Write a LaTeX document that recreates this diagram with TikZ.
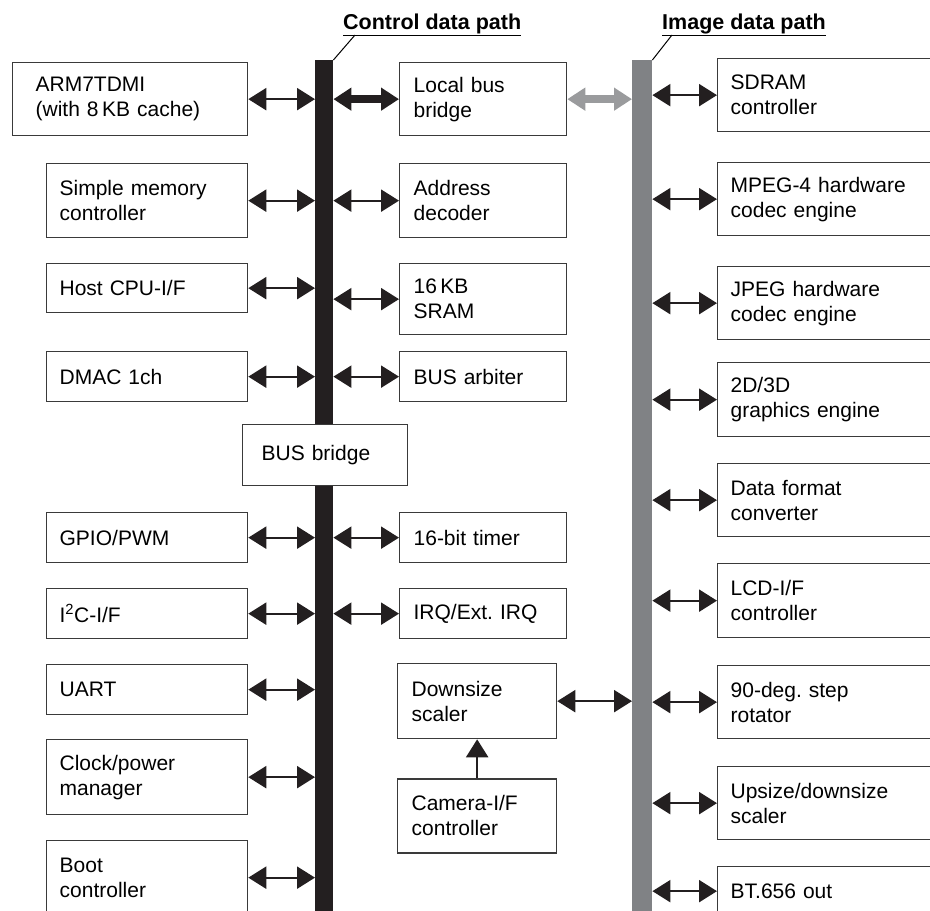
\documentclass[tikz,border=0pt]{standalone}
\usepackage{fontspec}
\setmainfont{Liberation Sans}
\usetikzlibrary{positioning, arrows.meta}

\definecolor{busblack}{HTML}{231F20}
\definecolor{busgray}{HTML}{808285}
\definecolor{linkgray}{HTML}{9A9B9D}
\definecolor{boxline}{HTML}{3A3A3A}
\frenchspacing

\begin{document}
\begin{tikzpicture}[x=1pt, y=-1pt,
                    box/.style={rectangle, draw=boxline, line width=1.3pt, fill=white, inner xsep=13pt, inner ysep=0pt,
                                align=left, anchor=north west, font=\fontsize{21}{25}\selectfont},
                    lbox/.style={box, text width=175pt},
                    mbox/.style={box, inner xsep=14pt, text width=139pt},
                    sbox/.style={box, inner xsep=14pt, text width=131pt},
                    rbox/.style={box, text width=214pt},
                    cbar/.style={rectangle, fill=busblack, inner sep=0pt, minimum width=18pt, minimum height=870pt, anchor=north west},
                    ibar/.style={rectangle, fill=busgray, inner sep=0pt, minimum width=20pt, minimum height=870pt, anchor=north west},
                    pathlbl/.style={inner sep=0pt, anchor=base west, font=\fontsize{21.5}{25}\selectfont\bfseries},
                    dbl/.style={{Triangle[length=18pt,width=22pt]}-{Triangle[length=18pt,width=22pt]}, line width=2.3pt, draw=busblack},
                    fatdbl/.style={dbl, line width=8pt},
                    uparrow/.style={-{Triangle[length=18pt,width=22pt]}, line width=2.3pt, draw=busblack}]
    \useasboundingbox (0,0) rectangle (930,911);
    \clip (0,0) rectangle (930,911);
    % buses
    \node[cbar]     (cbus)  at (315,60)   {};
    \node[ibar]     (ibus)  at (632,60)   {};
    \node[pathlbl]  (clbl)  at (343,29)   {\underline{Control data path}};
    \node[pathlbl]  (ilbl)  at (662,29)   {\underline{Image data path}};
    \coordinate     (ctail) at (355,35);
    \coordinate     (itail) at (672,35);
    \draw[line width=1pt] (ctail) -- (cbus.north east);
    \draw[line width=1pt] (itail) -- (ibus.north east);
    % left column
    \node[lbox, inner xsep=23pt, text width=189pt, minimum height=73pt] (arm)  at (12,62)  {ARM7TDMI\\(with 8\,KB cache)};
    \node[lbox, minimum height=74pt] (smc)  at (46,163)  {Simple memory\\controller};
    \node[lbox, minimum height=49pt] (host) at (46,263)  {Host CPU-I/F};
    \node[lbox, minimum height=50pt] (dmac) at (46,351)  {DMAC 1ch};
    \node[box, inner xsep=19pt, text width=127pt, minimum height=61pt] (bridge) at (242,424) {BUS bridge};
    \node[lbox, minimum height=50pt] (gpio) at (46,512)  {GPIO/PWM};
    \node[lbox, minimum height=50pt] (iic)  at (46,588)  {I\textsuperscript{2}C-I/F};
    \node[lbox, minimum height=50pt] (uart) at (46,664)  {UART};
    \node[lbox, minimum height=75pt] (clk)  at (46,739)  {Clock/power\\manager};
    \node[lbox, minimum height=74pt] (boot) at (46,840)  {Boot\\controller};
    % middle column
    \node[mbox, minimum height=73pt] (lbb)  at (399,62)  {Local bus\\bridge};
    \node[mbox, minimum height=74pt] (adec) at (399,163) {Address\\decoder};
    \node[mbox, minimum height=71pt] (sram) at (399,263) {16\,KB\\SRAM};
    \node[mbox, minimum height=50pt] (arb)  at (399,351) {BUS arbiter};
    \node[mbox, minimum height=50pt] (tmr)  at (399,512) {16-bit timer};
    \node[mbox, minimum height=50pt] (irq)  at (399,588) {IRQ/Ext. IRQ};
    \node[sbox, minimum height=75pt] (down) at (397,663) {Downsize\\scaler};
    \node[sbox, minimum height=74pt] (cam)  [below=39pt of down] {Camera-I/F\\controller};
    % right column
    \node[rbox, minimum height=73pt] (sdram) at (717,58)  {SDRAM\\controller};
    \node[rbox, minimum height=73pt] (mpeg)  at (717,162) {MPEG-4 hardware\\codec engine};
    \node[rbox, minimum height=73pt] (jpeg)  at (717,266) {JPEG hardware\\codec engine};
    \node[rbox, minimum height=74pt] (gfx)   at (717,362) {2D/3D\\graphics engine};
    \node[rbox, minimum height=73pt] (dfc)   at (717,463) {Data format\\converter};
    \node[rbox, minimum height=74pt] (lcd)   at (717,563) {LCD-I/F\\controller};
    \node[rbox, minimum height=73pt] (rot)   at (717,665) {90-deg. step\\rotator};
    \node[rbox, minimum height=73pt] (ups)   at (717,766) {Upsize/downsize\\scaler};
    \node[rbox, minimum height=49pt] (bt)    at (717,866) {BT.656 out};
    % lines
    \draw[dbl] (arm.east)  -- (arm.east -| cbus.west);
    \draw[dbl] (smc.east)  -- (smc.east -| cbus.west);
    \draw[dbl] (host.east) -- (host.east -| cbus.west);
    \draw[dbl] (dmac.east) -- (dmac.east -| cbus.west);
    \draw[dbl] (gpio.east) -- (gpio.east -| cbus.west);
    \draw[dbl] (iic.east)  -- (iic.east -| cbus.west);
    \draw[dbl] (uart.east) -- (uart.east -| cbus.west);
    \draw[dbl] (clk.east)  -- (clk.east -| cbus.west);
    \draw[dbl] (boot.east) -- (boot.east -| cbus.west);
    \draw[fatdbl] (lbb.west -| cbus.east) -- (lbb.west);
    \draw[fatdbl, draw=linkgray] (lbb.east) -- (lbb.east -| ibus.west);
    \draw[dbl] (adec.west -| cbus.east) -- (adec.west);
    \draw[dbl] (sram.west -| cbus.east) -- (sram.west);
    \draw[dbl] (arb.west -| cbus.east)  -- (arb.west);
    \draw[dbl] (tmr.west -| cbus.east)  -- (tmr.west);
    \draw[dbl] (irq.west -| cbus.east)  -- (irq.west);
    \draw[dbl] (down.east) -- (down.east -| ibus.west);
    \draw[uparrow] (cam.north) -- (down.south);
    \draw[dbl] (sdram.west -| ibus.east) -- (sdram.west);
    \draw[dbl] (mpeg.west -| ibus.east)  -- (mpeg.west);
    \draw[dbl] (jpeg.west -| ibus.east)  -- (jpeg.west);
    \draw[dbl] (gfx.west -| ibus.east)   -- (gfx.west);
    \draw[dbl] (dfc.west -| ibus.east)   -- (dfc.west);
    \draw[dbl] (lcd.west -| ibus.east)   -- (lcd.west);
    \draw[dbl] (rot.west -| ibus.east)   -- (rot.west);
    \draw[dbl] (ups.west -| ibus.east)   -- (ups.west);
    \draw[dbl] (bt.west -| ibus.east)    -- (bt.west);
\end{tikzpicture}
\end{document}
